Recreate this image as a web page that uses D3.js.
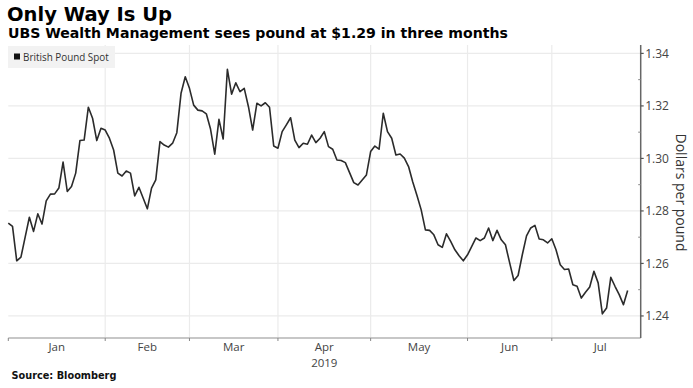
<!DOCTYPE html>
<html><head><meta charset="utf-8">
<script src="https://cdn.jsdelivr.net/npm/d3@7"></script>
<style>body{margin:0;background:#fff;} svg{display:block}</style>
</head><body><svg id="c" width="693" height="388"></svg>
<script>
const title = "Only Way Is Up";
const subtitle = "UBS Wealth Management sees pound at $1.29 in three months";
const seriesName = "British Pound Spot";
const yTitle = "Dollars per pound";
const source = "Source: Bloomberg";
const startDate = "2019-01-01"; // first trading (week) day
// GBPUSD, one value per weekday from Jan 1 2019
const gbpusd = [
 1.2754,1.2741,1.2610,1.2624,1.2700,1.2776,1.2722,1.2789,1.2750,1.2838,
 1.2864,1.2865,1.2887,1.2986,1.2874,1.2893,1.2944,1.3068,1.3070,1.3195,
 1.3153,1.3068,1.3115,1.3108,1.3077,1.3032,1.2944,1.2933,1.2952,1.2944,
 1.2857,1.2890,1.2849,1.2808,1.2887,1.2918,1.3064,1.3051,1.3043,1.3058,
 1.3098,1.3248,1.3311,1.3267,1.3203,1.3184,1.3181,1.3170,1.3112,1.3016,
 1.3149,1.3074,1.3339,1.3245,1.3288,1.3254,1.3267,1.3197,1.3108,1.3210,
 1.3200,1.3212,1.3195,1.3047,1.3039,1.3102,1.3128,1.3155,1.3070,1.3041,
 1.3058,1.3054,1.3089,1.3060,1.3077,1.3102,1.3045,1.3035,1.2994,1.2992,
 1.2984,1.2946,1.2908,1.2899,1.2918,1.2937,1.3026,1.3047,1.3035,1.3172,
 1.3102,1.3077,1.3013,1.3017,1.3001,1.2969,1.2910,1.2859,1.2804,1.2728,
 1.2726,1.2709,1.2671,1.2661,1.2713,1.2684,1.2652,1.2629,1.2610,1.2633,
 1.2665,1.2697,1.2687,1.2697,1.2735,1.2687,1.2726,1.2690,1.2671,1.2602,
 1.2535,1.2554,1.2633,1.2705,1.2735,1.2745,1.2693,1.2690,1.2678,1.2694,
 1.2652,1.2595,1.2577,1.2579,1.2519,1.2513,1.2468,1.2490,1.2510,1.2570,
 1.2526,1.2408,1.2430,1.2547,1.2513,1.2481,1.2443,1.2497
];
const monthLabels = ["Jan","Feb","Mar","Apr","May","Jun","Jul"];
const yearLabel = "2019";
const yearUnderMonth = "Apr";
const yTicks = [1.24,1.26,1.28,1.30,1.32,1.34];
const yMinorTicks = [1.25,1.27,1.29,1.31,1.33];
const xDomainEnd = 150.1;   // weekday index at right edge of plot
const yDomain = [1.2316, 1.3432];

// weekday calendar -> month boundary indices
const weekdays = [];
for (let d = new Date(startDate + "T00:00:00"); weekdays.length < 170; d = d3.timeDay.offset(d, 1)) {
  const wd = d.getDay();
  if (wd !== 0 && wd !== 6) weekdays.push(new Date(d));
}
const monthStarts = [];
for (let m = 0; m <= monthLabels.length; m++) {
  monthStarts.push(weekdays.findIndex(d => d.getMonth() === m));
}

const svg = d3.select("#c");
const L = 8.3, R = 640.7, T = 45, B = 338;
const x = d3.scaleLinear().domain([0, xDomainEnd]).range([L, R]);
const y = d3.scaleLinear().domain(yDomain).range([B, T]);

function fit(sel, w) {
  const n = sel.node();
  const cur = n.getComputedTextLength();
  const fs = parseFloat(sel.attr("font-size"));
  sel.attr("font-size", (fs * w / cur).toFixed(2));
}

// titles
const t1 = svg.append("text").attr("x", 7).attr("y", 21)
  .attr("font-family", "DejaVu Sans").attr("font-weight", "bold").attr("font-size", 19)
  .attr("fill", "#000").text(title);
fit(t1, 165);
const t2 = svg.append("text").attr("x", 8).attr("y", 37.5)
  .attr("font-family", "DejaVu Sans").attr("font-weight", "bold").attr("font-size", 14)
  .attr("fill", "#000").text(subtitle);
fit(t2, 500);

// grid
const g = svg.append("g");
g.selectAll(".hg").data(yTicks).join("line")
  .attr("x1", L).attr("x2", R).attr("y1", d => y(d)).attr("y2", d => y(d))
  .attr("stroke", "#ebebeb").attr("stroke-width", 1.2);
g.selectAll(".vg").data(monthStarts.slice(1, monthLabels.length)).join("line")
  .attr("x1", d => x(d)).attr("x2", d => x(d)).attr("y1", T).attr("y2", B)
  .attr("stroke", "#ebebeb").attr("stroke-width", 1.2);

// legend
svg.append("rect").attr("x", 8).attr("y", 46).attr("width", 107).attr("height", 22)
  .attr("fill", "#f2f2f2");
svg.append("rect").attr("x", 14).attr("y", 53.5).attr("width", 6).attr("height", 6).attr("fill", "#111");
const lt = svg.append("text").attr("x", 23).attr("y", 60.5)
  .attr("font-family", "Open Sans").attr("font-size", 10).attr("fill", "#333").text(seriesName);
fit(lt, 86);

// line
const line = d3.line().x((d, i) => x(i)).y(d => y(d));
svg.append("path").datum(gbpusd).attr("d", line)
  .attr("fill", "none").attr("stroke", "#2b2b2b").attr("stroke-width", 1.6)
  .attr("stroke-linejoin", "round");

// bottom axis
svg.append("line").attr("x1", L).attr("x2", R).attr("y1", B).attr("y2", B)
  .attr("stroke", "#b5b5b5").attr("stroke-width", 1.5);
svg.selectAll(".xt").data(monthStarts.slice(0, monthLabels.length)).join("line")
  .attr("x1", d => x(d)).attr("x2", d => x(d)).attr("y1", B).attr("y2", B + 3)
  .attr("stroke", "#888").attr("stroke-width", 1);
svg.selectAll(".xl").data(monthLabels).join("text")
  .attr("x", (d, i) => x((monthStarts[i] + monthStarts[i + 1]) / 2))
  .attr("y", 350.5).attr("text-anchor", "middle")
  .attr("font-family", "Open Sans").attr("font-size", 11.5).attr("fill", "#444").text(d => d);
const ai = monthLabels.indexOf(yearUnderMonth);
svg.append("text").attr("x", x((monthStarts[ai] + monthStarts[ai + 1]) / 2)).attr("y", 366.5)
  .attr("text-anchor", "middle").attr("font-family", "Open Sans").attr("font-size", 11.5)
  .attr("fill", "#444").text(yearLabel);

// right axis
svg.append("line").attr("x1", R).attr("x2", R).attr("y1", T).attr("y2", B)
  .attr("stroke", "#666").attr("stroke-width", 1.5);
svg.selectAll(".yt").data(yTicks).join("line")
  .attr("x1", R).attr("x2", R + 3).attr("y1", d => y(d)).attr("y2", d => y(d))
  .attr("stroke", "#555").attr("stroke-width", 1.2);
svg.selectAll(".ym").data(yMinorTicks).join("line")
  .attr("x1", R - 2.5).attr("x2", R).attr("y1", d => y(d)).attr("y2", d => y(d))
  .attr("stroke", "#888").attr("stroke-width", 1);
svg.selectAll(".yl").data(yTicks).join("text")
  .attr("x", R + 4.5).attr("y", d => y(d) + 4.2)
  .attr("font-family", "Open Sans").attr("font-size", 12).attr("fill", "#444")
  .text(d => d3.format(".2f")(d));
svg.append("text").attr("transform", `translate(676,${(T + B) / 2 + 1}) rotate(90)`)
  .attr("text-anchor", "middle").attr("font-family", "Open Sans").attr("font-size", 14)
  .attr("fill", "#333").text(yTitle);

// source
const st = svg.append("text").attr("x", 11.5).attr("y", 379)
  .attr("font-family", "DejaVu Sans").attr("font-weight", "bold").attr("font-size", 10)
  .attr("fill", "#111").text(source);
fit(st, 105);
</script></body></html>
